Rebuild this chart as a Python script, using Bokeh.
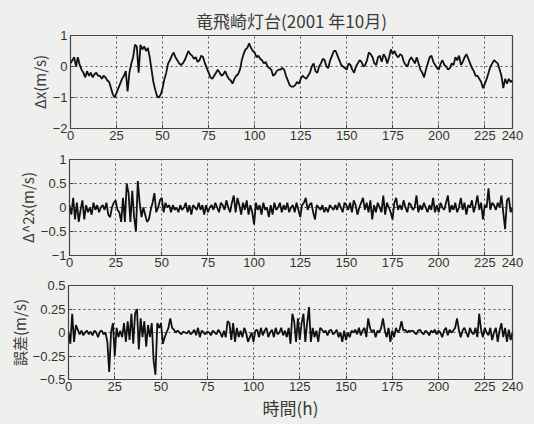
import numpy as np
from bokeh.plotting import figure
from bokeh.layouts import column, row
from bokeh.models import Range1d, FixedTicker, Spacer
from bokeh.embed import file_html
from bokeh.resources import INLINE

title_text = "竜飛崎灯台(2001 年10月)"
xlabel_text = "時間(h)"
ylabels = ["Δx(m/s)", "Δ^2x(m/s)", "誤差(m/s)"]
xticks = [0, 25, 50, 75, 100, 125, 150, 175, 200, 225, 240]
hours = list(range(0, 241))

dx = [0.1, 0.2, 0.3, 0.0, 0.3, 0.05, -0.1, -0.2, -0.35, -0.15,
      -0.3, -0.2, -0.35, -0.25, -0.2, -0.3, -0.3, -0.4, -0.3, -0.35,
      -0.45, -0.5, -0.7, -0.9, -1.0, -0.85, -0.7, -0.55, -0.4, -0.3,
      -0.15, -0.8, -0.2, 0.1, 0.3, 0.7, 0.65, -0.2, 0.7, 0.55,
      0.65, 0.5, 0.6, 0.3, -0.1, -0.5, -0.75, -0.95, -1.0, -0.9,
      -0.7, -0.4, -0.2, 0.1, 0.2, 0.35, 0.45, 0.3, 0.2, 0.1,
      0.05, 0.1, 0.2, 0.35, 0.5, 0.4, 0.35, 0.25, 0.3, 0.15,
      0.2, 0.35, 0.3, 0.1, -0.05, -0.2, -0.35, -0.4, -0.3, -0.2,
      -0.1, -0.2, -0.3, -0.25, -0.15, -0.3, -0.4, -0.45, -0.55, -0.4,
      -0.3, -0.25, -0.1, 0.2, 0.4, 0.55, 0.6, 0.75, 0.6, 0.5,
      0.45, 0.3, 0.35, 0.25, 0.2, 0.1, 0.15, 0.0, -0.05, -0.1,
      -0.3, -0.25, -0.15, -0.1, -0.1, -0.05, -0.1, -0.3, -0.45, -0.6,
      -0.65, -0.65, -0.6, -0.5, -0.55, -0.4, -0.3, -0.35, -0.4, -0.3,
      -0.2, 0.0, 0.1, -0.15, -0.2, 0.0, 0.1, 0.25, 0.2, 0.0,
      -0.05, 0.2, 0.35, 0.5, 0.5, 0.35, 0.2, 0.05, 0.0, -0.05,
      -0.1, 0.1, 0.05, -0.1, -0.2, 0.0, 0.1, 0.2, 0.15, 0.0,
      0.05, 0.2, 0.45, 0.4, 0.3, 0.1, 0.05, 0.3, 0.35, 0.15,
      0.4, 0.3, 0.1, 0.3, 0.55, 0.4, 0.5, 0.35, 0.3, 0.4,
      0.35, 0.15, 0.05, 0.0, 0.2, 0.3, 0.2, 0.1, 0.3, 0.1,
      -0.1, -0.2, -0.35, -0.1, 0.1, 0.3, 0.35, 0.15, 0.05, -0.05,
      -0.1, 0.1, 0.2, 0.05, 0.0, -0.1, -0.05, 0.1, 0.05, 0.3,
      0.2, 0.35, 0.05, 0.15, 0.3, 0.4, 0.25, 0.1, -0.05, -0.15,
      -0.3, -0.3, -0.4, -0.5, -0.7, -0.55, -0.4, -0.2, 0.0, 0.1,
      0.2, 0.15, 0.1, -0.1, -0.3, -0.7, -0.4, -0.55, -0.4, -0.5,
      -0.45]

d2x = [0.05, -0.15, 0.2, -0.25, 0.1, -0.3, -0.05, 0.15, -0.25, 0.05,
       -0.1, 0.0, -0.15, 0.1, -0.05, 0.05, -0.1, 0.0, 0.05, -0.05,
       0.1, -0.15, -0.2, 0.0, 0.1, 0.15, -0.05, -0.1, -0.3, 0.2,
       -0.3, 0.5, 0.3, -0.3, 0.35, -0.2, -0.5, 0.55, 0.1, -0.2,
       0.0, -0.15, -0.3, -0.25, -0.05, 0.1, 0.3, -0.1, 0.0, 0.15,
       0.2, -0.1, 0.1, 0.0, 0.05, -0.1, 0.05, -0.05, 0.0, -0.1,
       0.05, -0.05, 0.0, 0.1, -0.1, 0.05, -0.15, 0.05, 0.0, -0.05,
       0.1, -0.05, 0.05, -0.15, 0.05, -0.1, 0.0, 0.05, -0.05, 0.1,
       0.0, -0.1, 0.1, 0.05, -0.05, 0.15, 0.0, -0.1, 0.1, 0.25,
       -0.1, 0.2, 0.05, -0.15, 0.1, -0.05, 0.15, -0.15, 0.05, -0.1,
       -0.35, 0.1, -0.05, 0.05, -0.15, 0.1, -0.05, 0.0, -0.2, 0.05,
       -0.15, 0.1, -0.05, 0.0, 0.1, -0.1, 0.05, -0.05, 0.1, -0.1,
       0.0, 0.05, -0.1, 0.1, -0.05, -0.2, 0.05, 0.1, 0.2, -0.05,
       0.05, 0.1, -0.1, -0.25, 0.05, 0.0, -0.05, 0.05, -0.1, 0.0,
       -0.1, 0.05, 0.0, -0.05, 0.05, -0.05, 0.1, 0.0, -0.1, 0.1,
       0.05, -0.05, 0.1, -0.1, 0.15, 0.05, -0.15, 0.0, 0.1, 0.2,
       -0.05, 0.1, -0.1, 0.15, -0.25, 0.05, -0.1, 0.1, 0.0, -0.1,
       0.25, -0.15, 0.1, 0.0, -0.1, -0.25, 0.1, 0.2, -0.05, 0.05,
       -0.05, 0.15, 0.0, -0.1, 0.1, 0.05, -0.05, 0.0, 0.25, -0.1,
       0.05, -0.05, 0.1, 0.0, -0.1, 0.05, -0.05, 0.2, -0.1, 0.05,
       -0.1, 0.1, 0.0, -0.05, 0.1, 0.25, -0.1, 0.05, -0.05, 0.1,
       -0.1, 0.0, 0.2, -0.05, 0.1, -0.15, 0.05, 0.0, 0.15, -0.1,
       0.05, 0.25, -0.05, 0.1, -0.25, 0.05, 0.0, 0.4, -0.05, 0.1,
       0.05, -0.05, 0.1, 0.0, 0.25, -0.1, -0.45, 0.15, 0.2, -0.1,
       0.0]

err = [0.0, -0.12, 0.2, -0.1, 0.08, 0.03, -0.02, 0.02, -0.03, 0.0,
       0.02, -0.02, 0.01, -0.03, 0.02, 0.0, -0.05, 0.01, 0.02, -0.02,
       0.0, -0.1, -0.42, 0.0, 0.1, -0.25, 0.05, -0.05, 0.02, -0.05,
       0.1, -0.1, 0.12, -0.08, 0.2, -0.12, 0.2, 0.25, -0.18, 0.15,
       -0.05, 0.12, -0.15, 0.08, -0.05, 0.1, -0.3, -0.45, 0.1, 0.05,
       0.1, -0.12, -0.05, 0.0, 0.05, 0.15, 0.05, 0.03, 0.0, 0.02,
       0.0, -0.02, 0.01, 0.0, -0.01, 0.02, -0.02, 0.0, 0.03, -0.03,
       0.05, -0.05, 0.02, 0.0, -0.02, 0.01, 0.0, -0.03, 0.02, 0.0,
       -0.02, 0.03, 0.0, -0.05, 0.02, -0.05, 0.12, 0.1, -0.08, 0.1,
       -0.1, 0.05, -0.05, 0.02, -0.05, 0.05, 0.0, -0.1, -0.05, 0.0,
       -0.1, 0.02, 0.03, -0.05, 0.05, -0.03, 0.02, 0.05, -0.05, 0.0,
       0.03, -0.05, 0.05, -0.02, 0.0, 0.05, -0.03, 0.02, -0.05, 0.05,
       -0.12, 0.2, 0.12, -0.1, 0.15, -0.08, 0.1, 0.2, -0.1, 0.1,
       0.27, -0.1, 0.05, -0.05, 0.02, -0.1, 0.05, 0.03, 0.0, 0.02,
       -0.03, 0.02, 0.03, -0.02, 0.0, 0.03, -0.05, 0.0, -0.1, 0.02,
       -0.08, 0.0, -0.05, 0.02, 0.0, 0.03, -0.02, 0.05, -0.03, 0.02,
       0.05, -0.05, 0.15, 0.05, 0.0, 0.03, -0.05, 0.02, 0.0, 0.05,
       0.15, 0.02, -0.05, 0.05, -0.1, 0.02, -0.05, 0.05, 0.0, 0.03,
       0.12, 0.02, 0.03, 0.0, 0.02, 0.01, 0.02, 0.0, -0.02, 0.02,
       0.03, 0.0, -0.02, 0.02, 0.0, -0.03, 0.02, 0.0, 0.03, -0.02,
       0.02, 0.0, -0.05, 0.02, 0.05, -0.03, 0.03, 0.0, 0.02, 0.05,
       0.15, 0.03, -0.05, 0.02, 0.05, 0.0, -0.05, 0.05, 0.0, -0.02,
       0.05, -0.05, 0.2, 0.03, -0.05, 0.05, 0.0, -0.03, 0.05, -0.08,
       0.0, 0.05, -0.1, 0.02, 0.1, -0.05, 0.05, -0.1, 0.03, -0.08,
       0.0]

y1_ticks = [-2, -1, 0, 1]
y2_ticks = [-1, -0.5, 0, 0.5, 1]
y3_ticks = [-0.5, -0.25, 0, 0.25, 0.5]
y3_labels = {-0.5: "\u22120.5", -0.25: "\u22120.25", 0: "0", 0.25: "0.25", 0.5: "0.5"}
y2_labels = {-1: "\u22121", -0.5: "\u22120.5", 0: "0", 0.5: "0.5", 1: "1"}
y1_labels = {-2: "\u22122", -1: "\u22121", 0: "0", 1: "1"}

BG = "#efefed"
TICK_FONT = "Liberation Sans"
CJK = "Noto Sans CJK JP"


def make(height, yr, yticks, ylabels_map, ylabel, values, top, bottom,
         pad_w, title=None, xlabel=None):
    p = figure(width=526 - pad_w, height=height,
               x_range=Range1d(0, 240),
               y_range=Range1d(*yr), output_backend="svg",
               toolbar_location=None, min_border_left=20,
               min_border_right=14, min_border_top=top,
               min_border_bottom=bottom, background_fill_color=BG,
               border_fill_color=BG, outline_line_color="#444444",
               outline_line_width=1.2)
    if title:
        p.title.text = title
        p.title.align = "center"
        p.title.text_font = CJK
        p.title.text_font_size = "17px"
        p.title.text_font_style = "normal"
        p.title.text_color = "#3a3a3a"
        p.title.offset = 0
        p.title.standoff = 5
    p.line(hours, values, line_color="#111111", line_width=1.8)

    p.xaxis.ticker = FixedTicker(ticks=xticks)
    p.yaxis.ticker = FixedTicker(ticks=yticks)
    p.yaxis.major_label_overrides = ylabels_map
    for ax in (p.xaxis[0], p.yaxis[0]):
        ax.major_tick_in = 4
        ax.major_tick_out = 0
        ax.minor_tick_line_color = None
        ax.axis_line_color = None
        ax.major_tick_line_color = "#444444"
        ax.major_label_text_font = TICK_FONT
        ax.major_label_text_font_size = "13px"
        ax.major_label_text_color = "#333333"
    p.xaxis.major_label_standoff = 2
    p.yaxis.major_label_standoff = 3
    p.yaxis.axis_label = ylabel
    p.yaxis.axis_label_text_font = CJK
    p.yaxis.axis_label_text_font_size = "15px"
    p.yaxis.axis_label_text_font_style = "normal"
    p.yaxis.axis_label_text_color = "#3a3a3a"
    p.yaxis.axis_label_standoff = 0
    if xlabel:
        p.xaxis.axis_label = xlabel
        p.xaxis.axis_label_text_font = CJK
        p.xaxis.axis_label_text_font_size = "17px"
        p.xaxis.axis_label_text_font_style = "normal"
        p.xaxis.axis_label_text_color = "#3a3a3a"
        p.xaxis.axis_label_standoff = 1

    p.xgrid.ticker = FixedTicker(ticks=xticks[1:-1])
    p.ygrid.ticker = FixedTicker(ticks=yticks[1:-1])
    for g in (p.xgrid[0], p.ygrid[0]):
        g.grid_line_color = "#333333"
        g.grid_line_dash = "2 3"
        g.grid_line_width = 1
        g.grid_line_alpha = 0.85
    pad = Spacer(width=pad_w, height=height,
                 styles={"background-color": BG})
    return row(pad, p, spacing=0)


r1 = make(146, (-2, 1), y1_ticks, y1_labels, ylabels[0], dx, 35, 18, 25,
          title=title_text)
r2 = make(125, (-1, 1), y2_ticks, y2_labels, ylabels[1], d2x, 13, 16, 13)
r3 = make(151, (-0.5, 0.5), y3_ticks, y3_labels, ylabels[2], err, 14, 42,
          5, xlabel=xlabel_text)

layout = column(r1, r2, r3, spacing=0)

html = file_html(layout, INLINE)
html = html.replace("</head>",
                    "<style>html,body{background:%s;margin:0;padding:0}</style></head>" % BG, 1)
open("out.html", "w").write(html)
